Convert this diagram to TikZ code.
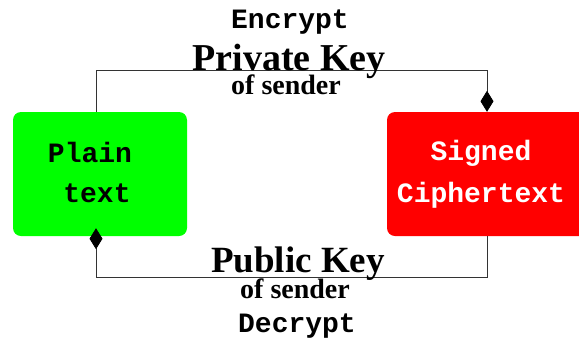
\documentclass[tikz,border=0pt]{standalone}
\usepackage{fontspec}
\setmainfont{Liberation Serif}
\newfontfamily\monofam{Liberation Mono}
\usetikzlibrary{arrows.meta}
\tikzset{
  box/.style={rounded corners=8pt, inner sep=0pt, draw=none},
  monolbl/.style={anchor=base, inner sep=0pt, font=\monofam\bfseries\fontsize{28}{30}\selectfont},
  keylbl/.style={anchor=base, inner sep=0pt, font=\bfseries\fontsize{37}{40}\selectfont},
  ofslbl/.style={anchor=base, inner sep=0pt, font=\bfseries\fontsize{28}{30}\selectfont},
  conn/.style={draw=black!80, line width=0.8pt, -{Diamond[length=21pt,width=13pt,color=black,fill=black]}},
}
\begin{document}
\begin{tikzpicture}[x=1pt,y=-1pt]
\useasboundingbox (0,0) rectangle (579,341);
\begin{scope}
\clip (0,0) rectangle (579,341);
% boxes
\node[box, fill={rgb,255:red,0;green,255;blue,0}, minimum width=174pt, minimum height=124pt] (plain) at (100,174) {};
\node[box, fill={rgb,255:red,255;green,0;blue,0}, minimum width=213pt, minimum height=124pt] (signed) at (493.5,174) {};
% connectors
\coordinate (tl) at (96,70);
\coordinate (tr) at (487,70);
\coordinate (bl) at (96,277);
\coordinate (br) at (487,277);
\draw[conn] (plain.north -| tl) -- (tl) -- (tr) -- (signed.north -| tr);
\draw[conn, shorten >=-8pt] (signed.south -| br) -- (br) -- (bl) -- (plain.south -| bl);
\end{scope}
% box texts
\node[monolbl] (p1) at (90,162) {Plain};
\node[monolbl] (p2) at (97,202) {text};
\node[monolbl, text=white] (s1) at (481,160) {Signed};
\node[monolbl, text=white] (s2) at (481,202) {Ciphertext};
% top labels
\node[monolbl] (enc) at (290,28) {Encrypt};
\node[keylbl, font=\bfseries\fontsize{38}{40}\selectfont] (priv) at (289,70) {Private Key};
\node[ofslbl] (ofs1) at (286,94) {of sender};
% bottom labels
\node[keylbl] (pub) at (298,272) {Public Key};
\node[ofslbl] (ofs2) at (295,298) {of sender};
\node[monolbl] (dec) at (297,332) {Decrypt};
\end{tikzpicture}
\end{document}
